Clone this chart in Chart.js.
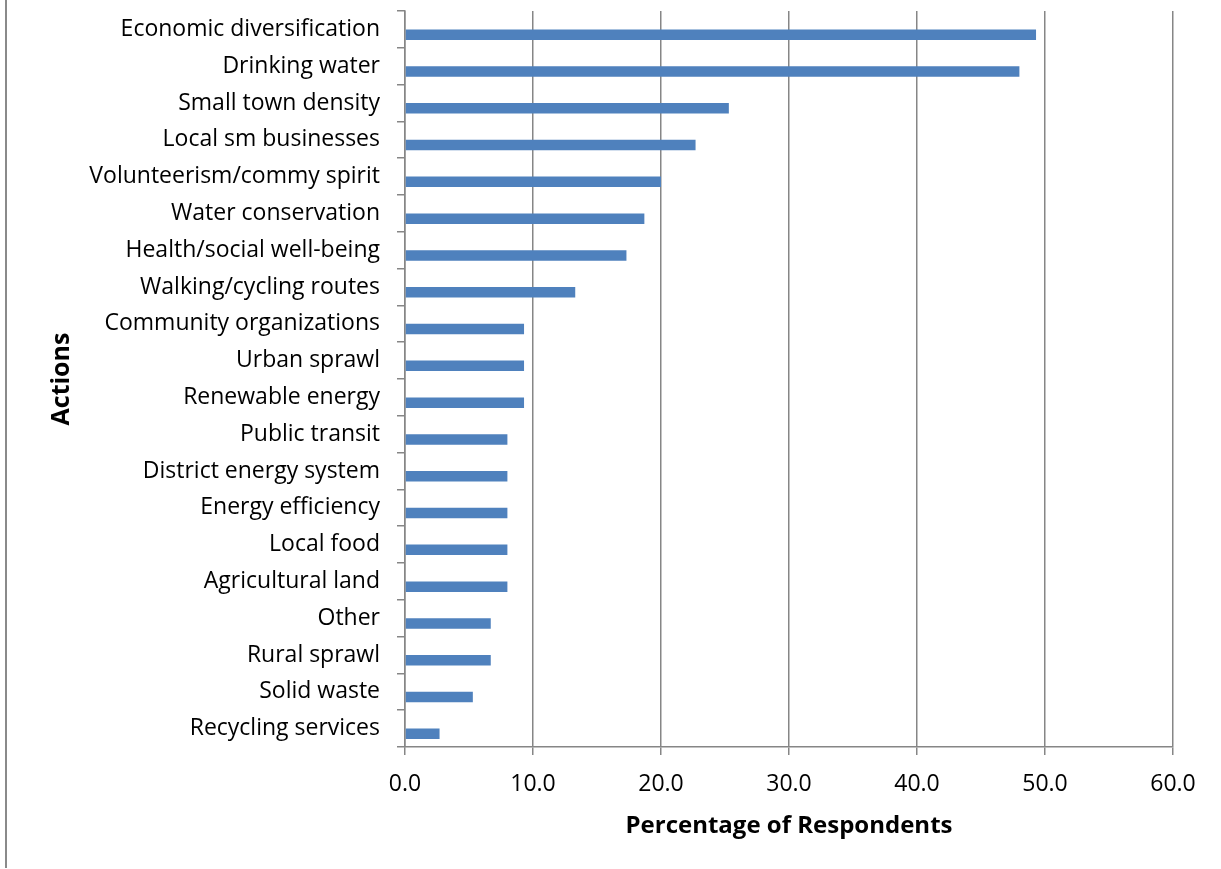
<!DOCTYPE html>
<html>
<head>
<meta charset="utf-8">
<script src="https://cdn.jsdelivr.net/npm/chart.js@4.4.0/dist/chart.umd.min.js"></script>
<style>
  html, body { margin: 0; padding: 0; background: #ffffff; }
  #wrap { position: relative; width: 1221px; height: 869px; }
</style>
</head>
<body>
<div id="wrap"><canvas id="chart" width="1221" height="869"></canvas></div>
<script>
// Survey results: share of respondents naming each action
const actions = [
  'Economic diversification',
  'Drinking water',
  'Small town density',
  'Local sm businesses',
  'Volunteerism/commy spirit',
  'Water conservation',
  'Health/social well-being',
  'Walking/cycling routes',
  'Community organizations',
  'Urban sprawl',
  'Renewable energy',
  'Public transit',
  'District energy system',
  'Energy efficiency',
  'Local food',
  'Agricultural land',
  'Other',
  'Rural sprawl',
  'Solid waste',
  'Recycling services'
];

const respondentPct = [
  49.3, 48.0, 25.3, 22.7, 20.0, 18.7, 17.3, 13.3, 9.3, 9.3,
  9.3, 8.0, 8.0, 8.0, 8.0, 8.0, 6.7, 6.7, 5.3, 2.7
];

// Placeholder series (no values) that keeps each bar in the lower half of its row
const emptySeries = actions.map(() => null);

const xTickValues = [0, 10, 20, 30, 40, 50, 60];

const AXIS_GREY = '#868686';
const FONT = "'Open Sans', 'Noto Sans', sans-serif";

// Thin grey frame line along the left edge of the canvas
const frameLine = {
  id: 'frameLine',
  afterDraw(chart) {
    const ctx = chart.ctx;
    ctx.save();
    ctx.fillStyle = '#8a8a8a';
    ctx.fillRect(5, 0, 2, chart.height - 1);
    ctx.restore();
  }
};

new Chart(document.getElementById('chart'), {
  type: 'bar',
  data: {
    labels: actions,
    datasets: [
      {
        label: '',
        data: emptySeries,
        backgroundColor: '#4F81BD',
        categoryPercentage: 0.571,
        barPercentage: 1.0
      },
      {
        label: 'Percentage of Respondents',
        data: respondentPct,
        backgroundColor: '#4F81BD',
        categoryPercentage: 0.571,
        barPercentage: 1.0
      }
    ]
  },
  options: {
    indexAxis: 'y',
    responsive: false,
    animation: false,
    layout: { padding: { top: 11, right: 48, bottom: 0, left: 0 } },
    plugins: {
      legend: { display: false },
      tooltip: { enabled: false }
    },
    scales: {
      x: {
        type: 'linear',
        position: 'bottom',
        min: 0,
        max: 60,
        afterBuildTicks(scale) {
          scale.ticks = xTickValues.map(v => ({ value: v }));
        },
        afterFit(scale) { scale.height = 122; },
        ticks: {
          color: '#000000',
          font: { family: FONT, size: 23 },
          padding: 16,
          maxRotation: 0,
          callback: v => Number(v).toFixed(1)
        },
        grid: {
          color: AXIS_GREY,
          lineWidth: 1.5,
          drawTicks: true,
          tickLength: 8
        },
        border: { display: true, color: AXIS_GREY, width: 1.5 },
        title: {
          display: true,
          text: 'Percentage of Respondents',
          color: '#000000',
          font: { family: FONT, size: 24, weight: 'bold' },
          padding: { top: 0, bottom: 28 }
        }
      },
      y: {
        type: 'category',
        position: 'left',
        offset: true,
        afterFit(scale) {
          scale.width = 405;
          scale.paddingTop = 0;
          scale.paddingBottom = 0;
        },
        ticks: {
          color: '#000000',
          font: { family: FONT, size: 23 },
          padding: 17,
          autoSkip: false
        },
        grid: {
          offset: true,
          drawOnChartArea: false,
          drawTicks: true,
          tickLength: 8,
          color: AXIS_GREY,
          lineWidth: 1.5
        },
        border: { display: true, color: AXIS_GREY, width: 1.5 },
        title: {
          display: true,
          text: 'Actions',
          color: '#000000',
          font: { family: FONT, size: 25, weight: 'bold' },
          padding: { top: 47, bottom: 0 }
        }
      }
    }
  },
  plugins: [frameLine]
});
</script>
</body>
</html>
